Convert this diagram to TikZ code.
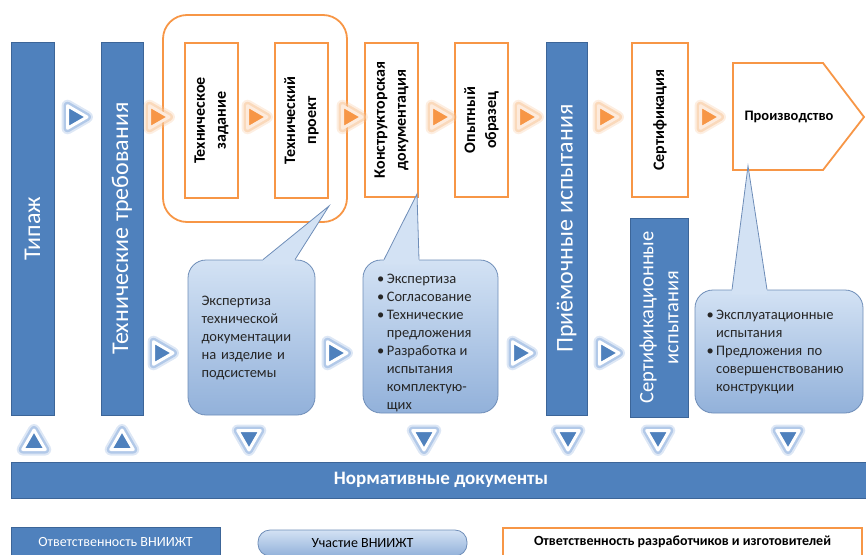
\documentclass[tikz,border=0pt]{standalone}
\usepackage{fontspec}
\setmainfont{Carlito}
\usetikzlibrary{shapes,positioning,calc}
\definecolor{barblue}{HTML}{4F81BD}
\definecolor{barline}{HTML}{3C6598}
\definecolor{orng}{HTML}{F79646}
\definecolor{orngpale}{HTML}{FDEBDD}
\definecolor{bubtop}{HTML}{D3E2F4}
\definecolor{bubbot}{HTML}{92B1DA}
\definecolor{bubline}{HTML}{6E8DB8}
\definecolor{glowblue}{HTML}{8FB0DE}
\definecolor{gloworng}{HTML}{F8C79C}
\tikzset{
  bluebar/.style={draw=barline, fill=barblue, line width=0.8pt, text=white, inner sep=0pt, font=\fontsize{24}{28}\selectfont},
  obox/.style={draw=orng, line width=1.8pt, fill=white, inner sep=0pt, align=center, font=\bfseries\fontsize{16}{21}\selectfont},
  bubble/.style={draw=bubline, line width=0.8pt, rounded corners=18pt, top color=bubtop, bottom color=bubbot},
  bubtext/.style={align=left, inner sep=0pt, text=black!85, font=\fontsize{14.5}{18}\selectfont},
  tri/.style={regular polygon, regular polygon sides=3, minimum size=26pt, inner sep=0pt, line width=3pt, line join=round},
  btri/.style={tri, draw=white, fill=barblue, preaction={draw=glowblue, line width=12pt, opacity=.3}, preaction={draw=glowblue, line width=8pt, opacity=.55}},
  otri/.style={tri, draw=orngpale, fill=orng, preaction={draw=gloworng, line width=12pt, opacity=.3}, preaction={draw=gloworng, line width=8pt, opacity=.55}}
}
\begin{document}
\begin{tikzpicture}[x=1pt, y=-1pt]
  \useasboundingbox (0,0) rectangle (866,554);

  % upper row
  \node[bluebar, rotate=90, minimum width=373pt, minimum height=43pt] (tipazh) at (32.5,228.5) {Типаж};
  \node[bluebar, rotate=90, minimum width=373pt, minimum height=42pt] (treb) at (122,228.5) {Технические требования};
  \node[draw=orng, line width=1.8pt, rounded corners=24pt, minimum width=184pt, minimum height=207pt] (proj) at (255,118.5) {};
  \node[obox, rotate=90, minimum width=155pt, minimum height=53pt] (zad) at (211.5,120.5) {Техническое\\задание};
  \node[obox, rotate=90, minimum width=155pt, minimum height=53pt] (tproekt) at (301.5,120.5) {Технический\\проект};
  \node[obox, rotate=90, minimum width=154pt, minimum height=53pt] (kd) at (391.5,120) {Конструкторская\\документация};
  \node[obox, rotate=90, minimum width=154pt, minimum height=53pt] (obr) at (481.5,120) {Опытный\\образец};
  \node[bluebar, rotate=90, minimum width=373pt, minimum height=41pt] (priem) at (566.5,228.5) {Приёмочные испытания};
  \node[obox, rotate=90, minimum width=154pt, minimum height=56pt] (sert) at (660,120) {Сертификация};
  \draw[orng, line width=1.8pt, fill=white] (733,63) -- (823,63) -- (864,117) -- (823,170) -- (733,170) -- cycle;
  \node[font=\bfseries\fontsize{14.5}{17}\selectfont] (proizv) at (789,117) {Производство};
  \node[bluebar, rotate=90, align=center, minimum width=199pt, minimum height=58pt, font=\fontsize{20.5}{25}\selectfont] (sertisp) at (659,317.5) {Сертификационные\\испытания};

  \node[btri, rotate=-90] (a1) at (74,117) {};
  \node[otri, rotate=-90] (a2) at (156,117) {};
  \node[otri, rotate=-90] (a3) at (254,117) {};
  \node[otri, rotate=-90] (a4) at (349,117) {};
  \node[otri, rotate=-90] (a5) at (438,117) {};
  \node[otri, rotate=-90] (a6) at (525,117) {};
  \node[otri, rotate=-90] (a7) at (605,117) {};
  \node[otri, rotate=-90] (a8) at (707,117) {};

  % callouts
  \node[bubble, bubtext, text width=100pt, minimum width=127pt, minimum height=155pt] (exp) at (251.5,337.5)
    {Экспертиза\\технической\\документации\\на изделие и\\подсистемы};
  \coordinate (p1) at (329,206);
  \fill[bubtop] ($(exp.north)+(11.5,5)$) -- ($(exp.north)+(11.5,0)$) -- (p1) -- ($(exp.north)+(43.5,0)$) -- ($(exp.north)+(43.5,5)$) -- cycle;
  \draw[bubline, line width=0.8pt] ($(exp.north)+(11.5,0)$) -- (p1) -- ($(exp.north)+(43.5,0)$);

  \node[bubble, minimum width=135pt, minimum height=153pt] (sogl) at (430.5,336.5) {};
  \node[bubtext, anchor=north west] (sogltxt) at (377,274)
    {\textbullet\,Экспертиза\\\textbullet\,Согласование\\\textbullet\,Технические\\\hphantom{\textbullet\,}предложения\\
     \textbullet\,Разработка и\\\hphantom{\textbullet\,}испытания\\\hphantom{\textbullet\,}комплектую-\\\hphantom{\textbullet\,}щих};
  \coordinate (p2) at (417,194);
  \fill[bubtop] ($(sogl.north)+(-46.5,5)$) -- ($(sogl.north)+(-46.5,0)$) -- (p2) -- ($(sogl.north)+(-11.5,0)$) -- ($(sogl.north)+(-11.5,5)$) -- cycle;
  \draw[bubline, line width=0.8pt] ($(sogl.north)+(-46.5,0)$) -- (p2) -- ($(sogl.north)+(-11.5,0)$);

  \node[bubble, bubtext, text width=145pt, minimum width=168pt, minimum height=123pt] (expl) at (779,351.5)
    {\textbullet\,Эксплуатационные\\\hphantom{\textbullet\,}испытания\\\textbullet\,Предложения по\\\hphantom{\textbullet\,}совершенствованию\\\hphantom{\textbullet\,}конструкции};
  \coordinate (p3) at (748,166);
  \fill[bubtop] ($(expl.north)+(-47,5)$) -- ($(expl.north)+(-47,0)$) -- (p3) -- ($(expl.north)+(-12,0)$) -- ($(expl.north)+(-12,5)$) -- cycle;
  \draw[bubline, line width=0.8pt] ($(expl.north)+(-47,0)$) -- (p3) -- ($(expl.north)+(-12,0)$);

  \node[btri, rotate=-90] (b1) at (160,353) {};
  \node[btri, rotate=-90] (b2) at (334,353) {};
  \node[btri, rotate=-90] (b3) at (519,353) {};
  \node[btri, rotate=-90] (b4) at (606,353) {};

  % to the norms
  \node[btri] (u1) at (34,443) {};
  \node[btri] (u2) at (122,443) {};
  \node[btri, rotate=180] (d1) at (249,437) {};
  \node[btri, rotate=180] (d2) at (424,437) {};
  \node[btri, rotate=180] (d3) at (568,437) {};
  \node[btri, rotate=180] (d4) at (658,437) {};
  \node[btri, rotate=180] (d5) at (788,437) {};

  \node[bluebar, minimum width=860pt, minimum height=36pt, font=\bfseries\fontsize{19}{22}\selectfont] (norm) at (441,480) {Нормативные документы};

  % legend
  \node[bluebar, minimum width=209pt, minimum height=30pt, font=\fontsize{14}{16}\selectfont] (leg1) at (115.5,542) {Ответственность ВНИИЖТ};
  \node[bubble, rounded corners=12pt, minimum width=209pt, minimum height=26pt, font=\fontsize{14}{16}\selectfont] (leg2) at (362.5,543) {Участие ВНИИЖТ};
  \node[draw=orng, line width=1.8pt, fill=white, minimum width=359pt, minimum height=28pt, font=\bfseries\fontsize{14}{16}\selectfont] (leg3) at (682.5,542) {Ответственность разработчиков и изготовителей};
\end{tikzpicture}
\end{document}
